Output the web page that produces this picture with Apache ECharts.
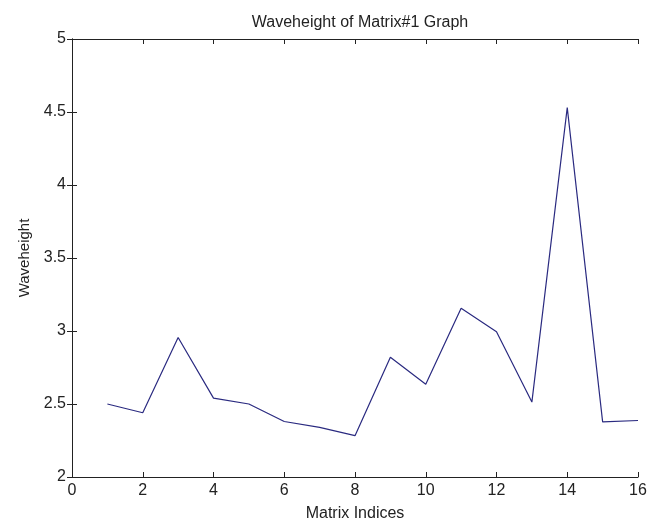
<!DOCTYPE html>
<html>
<head>
<meta charset="utf-8">
<script src="https://cdn.jsdelivr.net/npm/echarts@6/dist/echarts.min.js"></script>
<style>html,body{margin:0;padding:0;background:#fff;}#c{width:662px;height:527px;}</style>
</head>
<body>
<div id="c"></div>
<script>
var indices = [1, 2, 3, 4, 5, 6, 7, 8, 9, 10, 11, 12, 13, 14, 15, 16];
var waveheight = [2.50, 2.44, 2.955, 2.54, 2.50, 2.38, 2.34, 2.283, 2.82, 2.635, 3.155, 2.995, 2.513, 4.53, 2.378, 2.387];
var titleText = 'Waveheight of Matrix#1 Graph';
var xName = 'Matrix Indices';
var yName = 'Waveheight';

var font = '"Liberation Sans", Arial, sans-serif';
var txt = '#222';
var chart = echarts.init(document.getElementById('c'), null, {renderer: 'canvas'});
var axisLine = {show: true, lineStyle: {color: '#222', width: 1}};
var tick = {show: true, inside: true, length: 5, lineStyle: {color: '#222', width: 1}};
chart.setOption({
  animation: false,
  backgroundColor: '#fff',
  title: {text: titleText, left: 355, top: 10, textAlign: 'center',
    textStyle: {fontFamily: font, fontSize: 16, fontWeight: 'normal', color: txt}},
  grid: {left: 72, right: 24, top: 39, bottom: 45, containLabel: false},
  xAxis: [{
    type: 'value', min: 0, max: 16, interval: 2, position: 'bottom',
    name: xName, nameLocation: 'middle', nameGap: 29,
    nameTextStyle: {fontFamily: font, fontSize: 16, color: txt},
    axisLine: axisLine, axisTick: tick, splitLine: {show: false},
    axisLabel: {fontFamily: font, fontSize: 16, color: txt, margin: 6}
  }, {
    type: 'value', min: 0, max: 16, interval: 2, position: 'top',
    axisLine: axisLine, axisTick: tick, splitLine: {show: false},
    axisLabel: {show: false}
  }],
  yAxis: [{
    type: 'value', min: 2, max: 5, interval: 0.5, position: 'left',
    name: yName, nameLocation: 'middle', nameGap: 37, nameRotate: 90,
    nameTextStyle: {fontFamily: font, fontSize: 15, color: txt},
    axisLine: axisLine, axisTick: tick, splitLine: {show: false},
    axisLabel: {fontFamily: font, fontSize: 16, color: txt, margin: 6}
  }, {
    type: 'value', min: 2, max: 5, interval: 0.5, position: 'right',
    axisLine: axisLine, axisTick: tick, splitLine: {show: false},
    axisLabel: {show: false}
  }],
  series: [{
    type: 'line',
    data: indices.map(function (x, i) { return [x, waveheight[i]]; }),
    showSymbol: false, symbol: 'none',
    lineStyle: {color: '#2a2a80', width: 1.2},
    itemStyle: {color: '#2a2a80'}
  }]
});
</script>
</body>
</html>
